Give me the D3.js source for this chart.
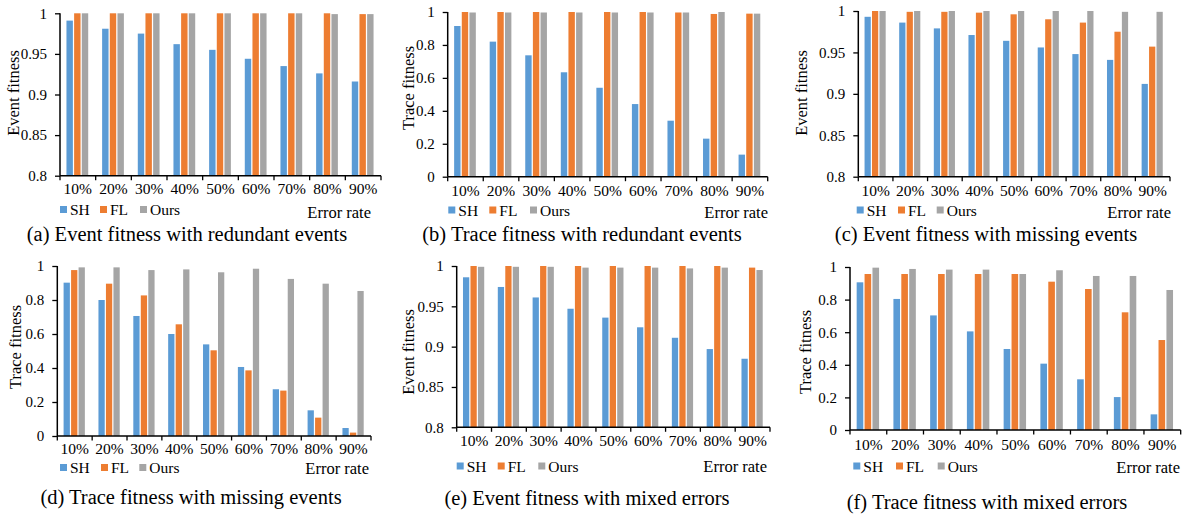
<!DOCTYPE html>
<html>
<head>
<meta charset="utf-8">
<script src="https://d3js.org/d3.v7.min.js"></script>
<style>
  body { margin: 0; background: #fff; }
  svg text { fill: #000; }
</style>
</head>
<body>
<div id="chart"></div>
<script>
  var categories = ["10%", "20%", "30%", "40%", "50%", "60%", "70%", "80%", "90%"];
  var seriesNames = ["SH", "FL", "Ours"];
  var colors = ["#5B9BD5", "#ED7D31", "#A5A5A5"];

  var eventTicks = [0.8, 0.85, 0.9, 0.95, 1];
  var eventTickLabels = ["0.8", "0.85", "0.9", "0.95", "1"];
  var traceTicks = [0, 0.2, 0.4, 0.6, 0.8, 1];
  var traceTickLabels = ["0", "0.2", "0.4", "0.6", "0.8", "1"];

  // (a) event fitness, redundant events
  var aSH   = [0.991, 0.981, 0.975, 0.962, 0.955, 0.944, 0.935, 0.926, 0.916];
  var aFL   = [1, 1, 1, 1, 1, 1, 1, 1, 0.999];
  var aOurs = [1, 1, 1, 1, 1, 1, 1, 0.999, 0.999];
  // (b) trace fitness, redundant events
  var bSH   = [0.915, 0.82, 0.737, 0.634, 0.54, 0.441, 0.34, 0.231, 0.134];
  var bFL   = [1, 1, 1, 1, 1, 1, 0.997, 0.988, 0.99];
  var bOurs = [0.997, 0.997, 0.997, 0.997, 0.997, 0.997, 0.997, 1, 0.99];
  // (c) event fitness, missing events
  var cSH   = [0.993, 0.986, 0.979, 0.971, 0.964, 0.956, 0.948, 0.941, 0.912];
  var cFL   = [1, 0.999, 0.999, 0.998, 0.996, 0.990, 0.986, 0.975, 0.957];
  var cOurs = [1, 1, 1, 1, 1, 1, 1, 0.999, 0.999];
  // (d) trace fitness, missing events
  var dSH   = [0.902, 0.8, 0.706, 0.6, 0.539, 0.406, 0.275, 0.151, 0.047];
  var dFL   = [0.976, 0.896, 0.827, 0.657, 0.504, 0.386, 0.267, 0.108, 0.02];
  var dOurs = [0.992, 0.992, 0.976, 0.98, 0.963, 0.984, 0.924, 0.896, 0.853];
  // (e) event fitness, mixed errors
  var eSH   = [0.986, 0.974, 0.961, 0.947, 0.936, 0.924, 0.911, 0.897, 0.885];
  var eFL   = [1, 1, 1, 1, 1, 1, 1, 1, 0.998];
  var eOurs = [0.999, 0.999, 0.999, 0.998, 0.998, 0.998, 0.997, 0.998, 0.995];
  // (f) trace fitness, mixed errors
  var fSH   = [0.906, 0.804, 0.703, 0.605, 0.497, 0.407, 0.311, 0.202, 0.096];
  var fFL   = [0.957, 0.957, 0.957, 0.957, 0.957, 0.91, 0.865, 0.722, 0.552];
  var fOurs = [0.996, 0.988, 0.984, 0.984, 0.957, 0.98, 0.945, 0.945, 0.859];

  var captions = [
    "(a) Event fitness with redundant events",
    "(b) Trace fitness with redundant events",
    "(c) Event fitness with missing events",
    "(d) Trace fitness with missing events",
    "(e) Event fitness with mixed errors",
    "(f) Trace fitness with mixed errors"
  ];

  var FONT = "'Liberation Serif', 'Times New Roman', serif";
  var W = 1188, H = 515;
  var svg = d3.select("#chart").append("svg")
    .attr("width", W).attr("height", H)
    .attr("font-family", FONT);

  // layout of each panel: axis box, label spots, legend spots
  var panels = [
    { series: [aSH, aFL, aOurs], kind: "event", x0: 60, x1: 381, yT: 13.3, yB: 175.7,
      ylab: "Event fitness", ylx: 19, yly: 93, tickY: 194, legY: 209.5, legX: [60, 100, 140],
      erX: 371, erY: 218, capX: 187, capY: 241 },
    { series: [bSH, bFL, bOurs], kind: "trace", x0: 447.7, x1: 767.7, yT: 12, yB: 176.7,
      ylab: "Trace fitness", ylx: 414, yly: 88, tickY: 196, legY: 210, legX: [448.3, 489.3, 530],
      erX: 768, erY: 218, capX: 582, capY: 241 },
    { series: [cSH, cFL, cOurs], kind: "event", x0: 858.3, x1: 1170, yT: 11, yB: 176.7,
      ylab: "Event fitness", ylx: 807, yly: 93, tickY: 196, legY: 210, legX: [856.7, 898, 936.7],
      erX: 1171, erY: 218, capX: 986, capY: 241 },
    { series: [dSH, dFL, dOurs], kind: "trace", x0: 57.3, x1: 371, yT: 266, yB: 436,
      ylab: "Trace fitness", ylx: 21, yly: 347, tickY: 454, legY: 467.5, legX: [60, 101, 139.3],
      erX: 369, erY: 474, capX: 191, capY: 504 },
    { series: [eSH, eFL, eOurs], kind: "event", x0: 456.7, x1: 770, yT: 266, yB: 427.3,
      ylab: "Event fitness", ylx: 414, yly: 352, tickY: 445.5, legY: 466, legX: [456.7, 497.7, 538.3],
      erX: 767, erY: 472, capX: 587, capY: 505 },
    { series: [fSH, fFL, fOurs], kind: "trace", x0: 850, x1: 1180.7, yT: 267, yB: 430,
      ylab: "Trace fitness", ylx: 811, yly: 352, tickY: 449.5, legY: 466, legX: [853.3, 896, 937.7],
      erX: 1180, erY: 473, capX: 987, capY: 509 }
  ];

  panels.forEach(function(p, pi) {
    var g = svg.append("g");
    var isEvent = p.kind == "event";
    var ticks = isEvent ? eventTicks : traceTicks;
    var tickLabels = isEvent ? eventTickLabels : traceTickLabels;

    var x = d3.scaleBand().domain(categories).range([p.x0, p.x1]);
    var y = d3.scaleLinear().domain(isEvent ? [0.8, 1] : [0, 1]).range([p.yB, p.yT]);

    var cw = x.bandwidth();
    var bw = cw * 0.18, gap = cw * 0.035;
    var groupW = 3 * bw + 2 * gap;

    seriesNames.forEach(function(name, si) {
      g.selectAll(null)
        .data(p.series[si])
        .enter()
        .append("rect")
        .attr("x", function(d, i) { return x(categories[i]) + (cw - groupW) / 2 - 0.5 + si * (bw + gap); })
        .attr("y", function(d) { return y(d); })
        .attr("width", bw)
        .attr("height", function(d) { return p.yB - y(d); })
        .style("fill", colors[si]);
    });

    // y axis
    var yAxis = d3.axisLeft(y).tickValues(ticks)
      .tickFormat(function(d, i) { return tickLabels[i]; })
      .tickSize(5).tickPadding(8);
    var ya = g.append("g").attr("transform", "translate(" + p.x0 + ",0)").call(yAxis)
      .attr("font-family", FONT).attr("font-size", 15);
    ya.select(".domain").attr("stroke", "#000").attr("stroke-width", 1.5)
      .attr("d", "M0," + p.yT + "V" + p.yB);
    ya.selectAll(".tick line").attr("stroke", "#000").attr("stroke-width", 1.3);
    ya.selectAll(".tick text").attr("fill", "#000");

    // x axis with ticks at category boundaries
    g.append("line")
      .attr("x1", p.x0).attr("x2", p.x1).attr("y1", p.yB).attr("y2", p.yB)
      .attr("stroke", "#000").attr("stroke-width", 1.5);
    var bounds = categories.map(function(c) { return x(c); }).concat([p.x1]);
    g.selectAll(null).data(bounds).enter().append("line")
      .attr("x1", function(d) { return d; }).attr("x2", function(d) { return d; })
      .attr("y1", p.yB).attr("y2", p.yB + 4.5)
      .attr("stroke", "#000").attr("stroke-width", 1.3);
    g.selectAll(null).data(categories).enter().append("text")
      .attr("x", function(d) { return x(d) + cw / 2; })
      .attr("y", p.tickY)
      .attr("text-anchor", "middle")
      .attr("font-size", 15.5)
      .text(function(d) { return d; });

    // axis titles
    g.append("text")
      .attr("transform", "translate(" + p.ylx + "," + p.yly + ") rotate(-90)")
      .attr("text-anchor", "middle")
      .attr("font-size", 16.5)
      .text(p.ylab);
    g.append("text")
      .attr("x", p.erX).attr("y", p.erY)
      .attr("text-anchor", "end")
      .attr("font-size", 16.5)
      .text("Error rate");

    // legend
    seriesNames.forEach(function(name, si) {
      g.append("rect")
        .attr("x", p.legX[si]).attr("y", p.legY - 3.5)
        .attr("width", 7).attr("height", 7)
        .style("fill", colors[si]);
      g.append("text")
        .attr("x", p.legX[si] + 10).attr("y", p.legY + 5.5)
        .attr("font-size", 15.5)
        .text(name);
    });

    // caption
    g.append("text")
      .attr("x", p.capX).attr("y", p.capY)
      .attr("text-anchor", "middle")
      .attr("font-size", 20.5)
      .text(captions[pi]);
  });
</script>
</body>
</html>
